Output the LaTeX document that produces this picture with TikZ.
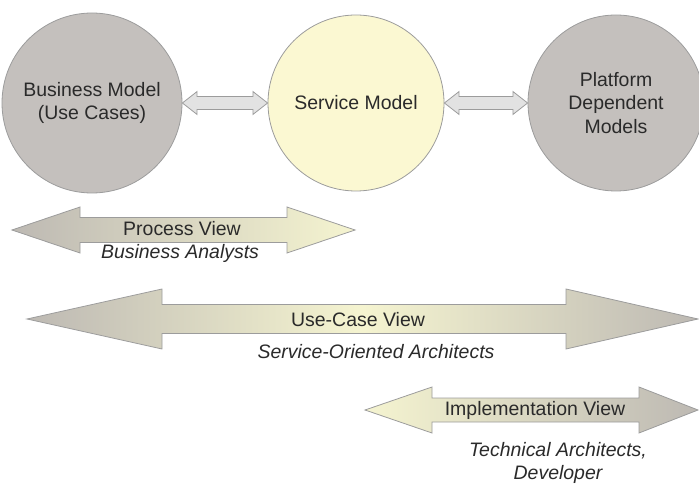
\documentclass[tikz,border=0pt]{standalone}
\usepackage{fontspec}
\setmainfont{Liberation Sans}
\usetikzlibrary{calc}

\definecolor{modelgray}{HTML}{C4C0BD}
\definecolor{modelyellow}{HTML}{FBF8D2}
\definecolor{rimgray}{HTML}{9C9C9C}
\definecolor{linkfill}{HTML}{E2E2E2}
\definecolor{viewgray}{HTML}{BDB9B3}
\definecolor{viewyellow}{HTML}{F5F4D0}
\definecolor{inkgray}{HTML}{2A2A2A}

% fat double-headed arrow:
% #1 style, #2 left tip x, #3 left head base x, #4 right head base x,
% #5 right tip x, #6 axis y, #7 shaft half height, #8 head half height
\newcommand\fatarrow[8]{%
  \path[#1] (#2,#6) -- (#3,#6-#8) -- (#3,#6-#7) -- (#4,#6-#7) -- (#4,#6-#8)
    -- (#5,#6) -- (#4,#6+#8) -- (#4,#6+#7) -- (#3,#6+#7) -- (#3,#6+#8) -- cycle;}

% fat double-headed link between two node anchors
\newcommand\fatlink[2]{%
  \path[linkarrow] let \p1=(#1), \p2=(#2) in
    (\x1,\y1) -- (\x1+11pt,\y1+8.6pt) -- (\x1+11pt,\y1+4.9pt)
    -- (\x2-11pt,\y1+4.9pt) -- (\x2-11pt,\y1+8.6pt) -- (\x2,\y1)
    -- (\x2-11pt,\y1-8.6pt) -- (\x2-11pt,\y1-4.9pt)
    -- (\x1+11pt,\y1-4.9pt) -- (\x1+11pt,\y1-8.6pt) -- cycle;}

\begin{document}
\begin{tikzpicture}[x=0.75pt,y=-0.75pt,
  every node/.style={text=inkgray, font=\fontsize{14.6pt}{17.6pt}\selectfont},
  bubble/.style={circle, draw=rimgray, line width=0.6pt, inner sep=0pt, align=center},
  linkarrow/.style={draw=rimgray, fill=linkfill, line width=0.6pt, line join=miter},
  viewarrow/.style={draw=rimgray, line width=0.6pt, line join=miter},
  caption/.style={align=center},
  role/.style={align=center, font=\fontsize{14.6pt}{17.6pt}\selectfont\itshape}]
  \clip (0,0) rectangle (699,484);
  \useasboundingbox (0,0) rectangle (699,484);

  % models
  \node[bubble, fill=modelgray, minimum size=135pt] (bm) at (92,103)
    {Business Model\\(Use Cases)};
  \node[bubble, fill=modelyellow, minimum size=132pt] (sm) at (356,103)
    {Service Model};
  \node[bubble, fill=modelgray, minimum size=132pt] (pdm) at (616,103)
    {Platform\\Dependent\\Models};

  % links between models
  \fatlink{bm.east}{sm.west}
  \fatlink{sm.east}{pdm.west}

  % views
  \fatarrow{viewarrow, left color=viewgray, right color=viewyellow}
    {12}{80}{287}{355}{230}{12.5}{23}
  \node[caption] (pv) at (182,229) {Process View};
  \node[role] (pvr) at (180,253) {Business Analysts};

  \fatarrow{viewarrow, left color=viewgray, right color=viewgray, middle color=viewyellow}
    {27}{162}{566}{698}{319}{14.5}{30}
  \node[caption] (uv) at (358,320) {Use-Case View};
  \node[role] (uvr) at (376,352) {Service-Oriented Architects};

  \fatarrow{viewarrow, left color=viewyellow, right color=viewgray}
    {365}{432}{639}{698}{410}{12}{23}
  \node[caption] (iv) at (535,410) {Implementation View};
  \node[role] (ivr) at (558,463) {Technical Architects,\\Developer};
\end{tikzpicture}
\end{document}
